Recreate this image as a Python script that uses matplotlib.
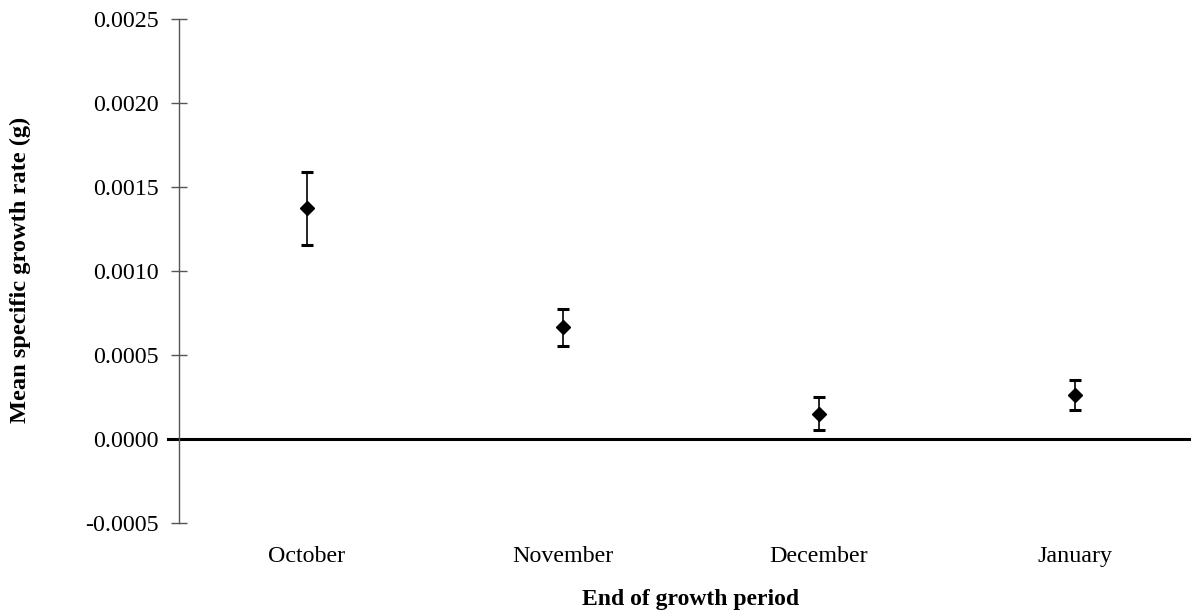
import numpy as np
import matplotlib
matplotlib.use('Agg')
import matplotlib.pyplot as plt

plt.rcParams['font.family'] = ['Liberation Serif', 'DejaVu Serif']

months = ['October', 'November', 'December', 'January']
mean_rate = [0.001373, 0.000665, 0.000150, 0.000262]
err = [0.000217, 0.000112, 0.000098, 0.000088]
y_ticks = [-0.0005, 0.0, 0.0005, 0.0010, 0.0015, 0.0020, 0.0025]

fig = plt.figure(figsize=(11.91, 6.16), dpi=100)
ax = fig.add_axes([0.1503, 0.1505, 0.8598, 0.8191])

x = np.arange(1, len(months) + 1)
ax.errorbar(x, mean_rate, yerr=err, fmt='D', color='black', markersize=7,
            ecolor='black', elinewidth=1.2, capsize=4, capthick=2.2)

ax.axhline(0, xmin=-0.011, xmax=1, color='black', lw=2.2, clip_on=False)

ax.set_xlim(0.5, 4.5)
ax.set_ylim(-0.0005, 0.0025)
ax.set_yticks(y_ticks)
ax.set_yticklabels(['%.4f' % v for v in y_ticks], fontsize=17.3)
ax.set_xticks(x)
ax.set_xticklabels(months, fontsize=17.3)

for side in ['top', 'right', 'bottom']:
    ax.spines[side].set_visible(False)
ax.spines['left'].set_color('#555555')
ax.spines['left'].set_linewidth(1.0)
ax.tick_params(axis='y', direction='inout', length=11, width=1.0, color='#555555', pad=9)
ax.tick_params(axis='x', length=0, pad=16)

ax.set_xlabel('End of growth period', fontsize=17, fontweight='bold', va='center')
ax.xaxis.set_label_coords(0.5, -0.152)
ax.set_ylabel('Mean specific growth rate (g)', fontsize=17.6, fontweight='bold', va='center')
ax.yaxis.set_label_coords(-0.155, 0.503)

plt.savefig('out.png', dpi=100)
